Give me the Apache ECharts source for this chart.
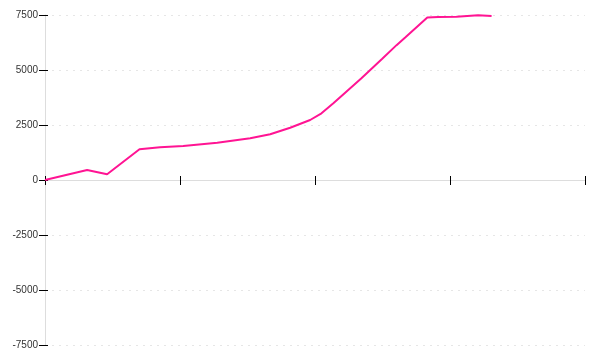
<!DOCTYPE html>
<html>
<head>
<meta charset="utf-8">
<script src="https://cdn.jsdelivr.net/npm/echarts@6/dist/echarts.min.js"></script>
<style>html,body{margin:0;padding:0;background:#fff}#c{width:600px;height:360px}</style>
</head>
<body>
<div id="c"></div>
<script>
var xValues = [0, 7.8, 11.5, 17.5, 21.3, 25.6, 31.9, 38.0, 41.7, 45.4, 49.1, 51.2, 53.4, 58.6, 62.4, 65.1, 66.7, 70.8, 72.8, 76.2, 80.2, 82.7];
var yValues = [0, 455, 260, 1395, 1486, 1545, 1695, 1895, 2077, 2377, 2727, 3032, 3485, 4622, 5500, 6130, 6480, 7385, 7409, 7423, 7490, 7454];
var yTicks = { min: -7500, max: 7500, interval: 2500 };
var xTicks = { min: 0, max: 100, interval: 25 };

var points = xValues.map(function (x, i) { return [x, yValues[i]]; });

var chart = echarts.init(document.getElementById('c'), null, { renderer: 'canvas' });
var labelFont = { fontFamily: 'Liberation Sans', fontSize: 10, color: '#333' };
chart.setOption({
  animation: false,
  grid: { left: 45, right: 15, top: 15, bottom: 15, containLabel: false },
  xAxis: [
    {
      type: 'value', min: xTicks.min, max: xTicks.max, interval: xTicks.interval,
      position: 'bottom',
      axisLine: { onZero: true, lineStyle: { color: '#dddddd', width: 1 } },
      axisTick: { show: true, length: 5, lineStyle: { color: '#000' } },
      axisLabel: { show: false },
      splitLine: { show: false }
    },
    {
      type: 'value', min: xTicks.min, max: xTicks.max, interval: xTicks.interval,
      position: 'top',
      axisLine: { onZero: true, lineStyle: { color: '#dddddd', width: 1 } },
      axisTick: { show: true, length: 4, lineStyle: { color: '#000' } },
      axisLabel: { show: false },
      splitLine: { show: false }
    }
  ],
  yAxis: [
    {
      type: 'value', min: yTicks.min, max: yTicks.max, interval: yTicks.interval,
      position: 'left',
      axisLine: { show: true, onZero: false, lineStyle: { color: '#dddddd', width: 1 } },
      axisTick: { show: true, length: 6, lineStyle: { color: '#000' } },
      axisLabel: Object.assign({ margin: 7, formatter: function (v) { return String(v); } }, labelFont),
      splitLine: { show: true, lineStyle: { color: '#e6e6e6', type: [2, 5] } }
    },
    {
      type: 'value', min: yTicks.min, max: yTicks.max, interval: yTicks.interval,
      position: 'right',
      axisLine: { show: false, onZero: true },
      axisTick: { show: true, length: 3, lineStyle: { color: '#000' } },
      axisLabel: { show: false },
      splitLine: { show: false }
    }
  ],
  series: [{
    type: 'line',
    xAxisIndex: 0,
    yAxisIndex: 0,
    data: points,
    showSymbol: false,
    symbol: 'none',
    lineStyle: { color: '#ff1493', width: 2 },
    itemStyle: { color: '#ff1493' }
  }]
});
</script>
</body>
</html>
